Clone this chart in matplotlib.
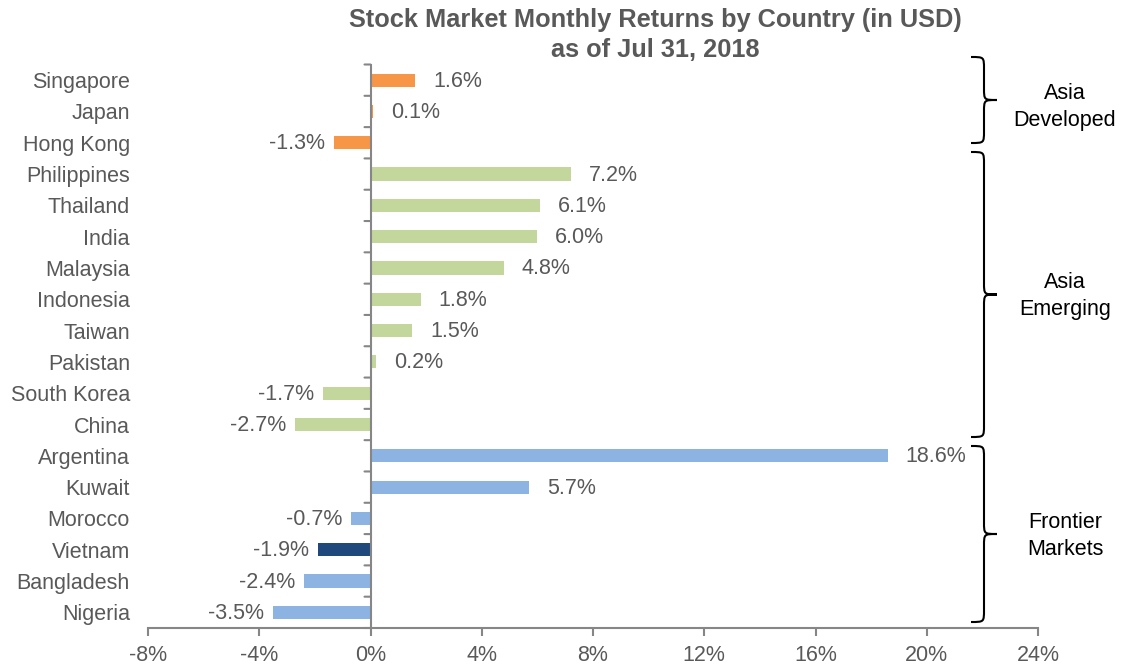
import matplotlib
matplotlib.use("Agg")
import matplotlib.pyplot as plt
from matplotlib.path import Path
from matplotlib.patches import PathPatch
from matplotlib.ticker import FuncFormatter, FixedLocator
import numpy as np

countries = ["Singapore", "Japan", "Hong Kong", "Philippines", "Thailand", "India",
             "Malaysia", "Indonesia", "Taiwan", "Pakistan", "South Korea", "China",
             "Argentina", "Kuwait", "Morocco", "Vietnam", "Bangladesh", "Nigeria"]
returns = [1.6, 0.1, -1.3, 7.2, 6.1, 6.0, 4.8, 1.8, 1.5, 0.2, -1.7, -2.7,
           18.6, 5.7, -0.7, -1.9, -2.4, -3.5]
groups = ["dev"] * 3 + ["emg"] * 9 + ["fro"] * 6
highlight = "Vietnam"
group_names = {"dev": "Asia\nDeveloped", "emg": "Asia\nEmerging", "fro": "Frontier\nMarkets"}
xticks = [-8, -4, 0, 4, 8, 12, 16, 20, 24]

colors = {"dev": "#F79646", "emg": "#C3D69B", "fro": "#8DB3E2"}
hl_color = "#1F497D"
grey = "#595959"
axis_grey = "#868686"

plt.rcParams['font.family'] = ['Liberation Sans', 'DejaVu Sans']
FS = 15.5

W, H = 1131, 666
fig = plt.figure(figsize=(W / 100, H / 100), dpi=100)
L, R, B, T = 148, 1038, 628, 64.5
ax = fig.add_axes([L / W, 1 - B / H, (R - L) / W, (B - T) / H])

n = len(countries)
y = np.arange(n)
bar_colors = [hl_color if c == highlight else colors[g] for c, g in zip(countries, groups)]
ax.barh(y, returns, height=0.42, color=bar_colors)
ax.set_ylim(n - 0.5, -0.5)
ax.set_xlim(xticks[0], xticks[-1])

for yi, v in zip(y, returns):
    lab = f"{v:.1f}%"
    if v >= 0:
        ax.annotate(lab, (v, yi), xytext=(18, -1), textcoords="offset pixels",
                    va="center", ha="left", fontsize=FS, color=grey)
    else:
        ax.annotate(lab, (v, yi), xytext=(-9, -1), textcoords="offset pixels",
                    va="center", ha="right", fontsize=FS, color=grey)

ax.xaxis.set_major_locator(FixedLocator(xticks))
ax.xaxis.set_major_formatter(FuncFormatter(lambda v, p: f"{v:.0f}%"))
ax.tick_params(axis="x", colors=axis_grey, labelcolor=grey, labelsize=FS, length=6, width=1.5, pad=6)

ax.set_yticks(y)
ax.set_yticklabels(countries)
ax.tick_params(axis="y", which="major", length=0, labelsize=FS, labelcolor=grey, pad=13)

for s in ["top", "right", "left"]:
    ax.spines[s].set_visible(False)
ax.spines["bottom"].set_color(axis_grey)
ax.spines["bottom"].set_linewidth(1.5)
ax.axvline(0, color=axis_grey, lw=1.5)
for yb in np.arange(-0.5, n, 1.0):
    ax.annotate("", xy=(0, yb), xytext=(-6, 0), textcoords="offset pixels",
                arrowprops=dict(arrowstyle="-", color=axis_grey, lw=1.5, shrinkA=0, shrinkB=0))

fig.text(655 / W, 1 - 20 / H, "Stock Market Monthly Returns by Country (in USD)",
         ha="center", va="center", fontsize=18.3, fontweight="bold", color=grey)
fig.text(655 / W, 1 - 50 / H, "as of Jul 31, 2018",
         ha="center", va="center", fontsize=18.3, fontweight="bold", color=grey)

def brace(y0, y1, xe=971, xb=984, xt=997, r=12):
    ym = (y0 + y1) / 2
    pts = [(xe, y0), (xb, y0), (xb, y0), (xb, y0 + r),
           (xb, ym - r),
           (xb, ym), (xb, ym), (xt, ym),
           (xb, ym), (xb, ym), (xb, ym + r),
           (xb, y1 - r),
           (xb, y1), (xb, y1), (xe, y1)]
    codes = [Path.MOVETO, Path.CURVE4, Path.CURVE4, Path.CURVE4,
             Path.LINETO,
             Path.CURVE4, Path.CURVE4, Path.CURVE4,
             Path.CURVE4, Path.CURVE4, Path.CURVE4,
             Path.LINETO,
             Path.CURVE4, Path.CURVE4, Path.CURVE4]
    pts = [(x / W, 1 - yy / H) for x, yy in pts]
    fig.add_artist(PathPatch(Path(pts, codes), fill=False, lw=1.5, ec="black",
                             transform=fig.transFigure))

# brace extents and label centres in pixel layout
brace_px = {"dev": (57, 143, 107), "emg": (152, 437, 296), "fro": (446, 622, 536)}
for g in ["dev", "emg", "fro"]:
    y0, y1, ty = brace_px[g]
    brace(y0, y1)
    fig.text(1065 / W, 1 - ty / H, group_names[g], ha="center", va="center",
             fontsize=FS, color="black", linespacing=1.4)

fig.savefig("out.png", dpi=100)
